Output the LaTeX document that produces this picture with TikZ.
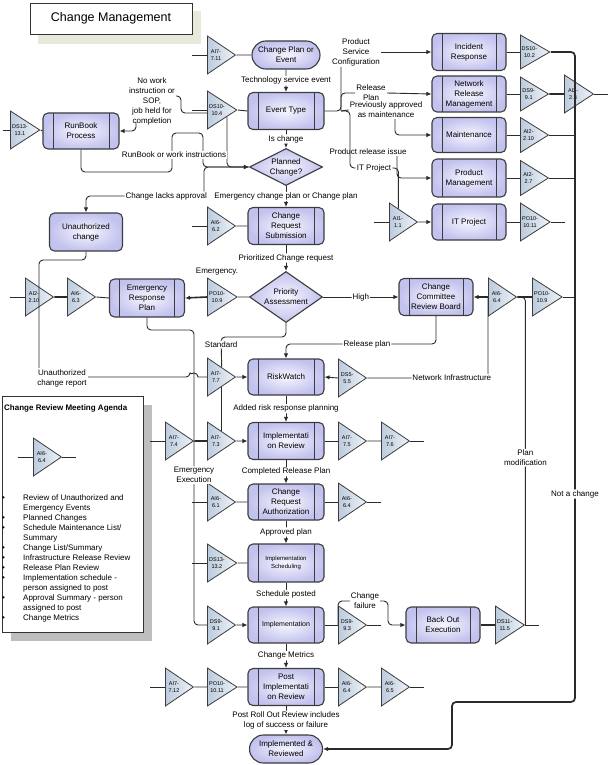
\documentclass[tikz,border=0pt]{standalone}
\usepackage{fontspec}
\setmainfont{Liberation Sans}
\usetikzlibrary{shapes.geometric, shapes.misc, arrows.meta, calc}

\definecolor{boxline}{HTML}{3C3C3C}
\definecolor{boxout}{HTML}{C2C2EE}
\definecolor{boxin}{HTML}{F6F6FF}
\definecolor{trione}{HTML}{BCCBDD}
\definecolor{tritwo}{HTML}{EEF3F8}
\definecolor{wirecol}{HTML}{2A2A2A}
\definecolor{titleshade}{HTML}{E7EADA}
\definecolor{agendashade}{HTML}{BEBEBE}

\newcommand{\lblfont}{\fontsize{8}{10}\selectfont}
\newcommand{\trifont}{\fontsize{5.5}{7.5}\selectfont}

\tikzset{
  boxbase/.style={rectangle, rounded corners=5pt, draw=boxline, line width=1.1pt,
    inner color=boxin, outer color=boxout, inner sep=1pt, align=center,
    font=\lblfont, minimum width=76pt, minimum height=37pt},
  proc/.style={boxbase, path picture={
    \draw[boxline, line width=1pt]
      ([xshift=10pt]path picture bounding box.north west) -- ([xshift=10pt]path picture bounding box.south west)
      ([xshift=-10pt]path picture bounding box.north east) -- ([xshift=-10pt]path picture bounding box.south east);}},
  term/.style={rounded rectangle, draw=boxline, line width=1.1pt, inner color=boxin,
    outer color=boxout, align=center, font=\lblfont, minimum width=70pt,
    minimum height=28pt, inner sep=1pt},
  decide/.style={diamond, draw=boxline, line width=1.1pt, inner color=boxin,
    outer color=boxout, align=center, font=\lblfont, inner sep=0pt, minimum width=73pt},
  tri/.style={isosceles triangle, isosceles triangle stretches, shape border rotate=0,
    draw=boxline, line width=0.8pt, left color=trione, right color=tritwo,
    minimum width=38pt, minimum height=28pt, inner sep=0pt, anchor=west,
    align=center, font=\trifont},
  lbl/.style={fill=white, inner sep=1pt, align=center, font=\lblfont},
  wire/.style={draw=wirecol, line width=0.9pt, rounded corners=4pt},
  arr/.style={wire, -{Latex[length=5pt, width=4.5pt]}},
  fat/.style={wire, line width=1.7pt},
}

\begin{document}
\begin{tikzpicture}[x=1pt, y=-1pt]
    \useasboundingbox (0,0) rectangle (608,765);

    % Title
    \fill[titleshade] (38,11) rectangle (201,44);
    \node[draw=black!80, line width=0.9pt, fill=white, minimum width=162pt, minimum height=31pt,
      font=\fontsize{12.5}{14}\selectfont] (title) at (111,18.5) {Change Management};

    % Agenda box
    \fill[agendashade] (11,405) rectangle (152,641);
    \node[draw=black!80, line width=0.9pt, fill=white, minimum width=141pt, minimum height=236pt,
      anchor=north west] (agenda) at (2,396) {};
    \node[font=\bfseries\lblfont, anchor=west, inner sep=1pt] (agtitle) at (3,408) {Change Review Meeting Agenda};
    \node[tri] (t64box) at (33,457) {AI6-\\6.4};
    \draw[wire] (t64box.west) -- ++(-15,0);
    \draw[wire] (t64box.east) -- ++(14,0);
    \node[anchor=north west, inner sep=0pt, font=\lblfont] (aglist) at (2,493.5) {%
      \begin{tabular}{@{}p{21pt}@{}l@{}}
        \textbullet & Review of Unauthorized and\\
                    & Emergency Events\\
        \textbullet & Planned Changes\\
        \textbullet & Schedule Maintenance List/\\
                    & Summary\\
        \textbullet & Change List/Summary\\
        \textbullet & Infrastructure Release Review\\
        \textbullet & Release Plan Review\\
        \textbullet & Implementation schedule -\\
                    & person assigned to post\\
        \textbullet & Approval Summary - person\\
                    & assigned to post\\
        \textbullet & Change Metrics
      \end{tabular}};

    % Main column
    \node[term] (cpe) at (286,55) {Change Plan or\\Event};
    \node[proc] (evtype) at (286,111) {Event Type};
    \node[decide, aspect=2, minimum height=37pt] (planned) at (286,167) {Planned\\Change?};
    \node[proc] (crsub) at (286,226) {Change\\Request\\Submission};
    \node[decide, aspect=1.4, minimum height=51pt] (prio) at (286,297) {Priority\\Assessment};
    \node[proc, minimum height=36pt] (riskw) at (286,377) {RiskWatch};
    \node[proc] (implrev) at (286,441) {Implementati\\on Review};
    \node[proc, minimum height=36pt] (crauth) at (286,502) {Change\\Request\\Authorization};
    \node[proc, minimum height=38pt, font=\fontsize{6}{8}\selectfont] (implsched) at (286,563) {Implementation\\Scheduling};
    \node[proc, minimum height=36pt, font=\fontsize{7}{9}\selectfont] (implem) at (286,625) {Implementation};
    \node[proc] (postrev) at (286,687) {Post\\Implementati\\on Review};
    \node[term, minimum width=75pt] (done) at (286,749) {Implemented \&\\Reviewed};

    % Right column
    \node[proc, minimum width=74pt] (incid) at (469,52) {Incident\\Response};
    \node[proc, minimum width=74pt, minimum height=36pt] (netrel) at (469,94) {Network\\Release\\Management};
    \node[proc, minimum width=74pt, minimum height=35pt] (maint) at (469,135) {Maintenance};
    \node[proc, minimum width=74pt, minimum height=38pt] (prodm) at (469,178) {Product\\Management};
    \node[proc, minimum width=74pt, minimum height=36pt] (itproj) at (469,222) {IT Project};
    \node[proc, minimum width=74pt] (ccrb) at (436,297) {Change\\Committee\\Review Board};
    \node[proc, minimum width=74pt, minimum height=36pt] (backout) at (443,625) {Back Out\\Execution};

    % Left column
    \node[proc, minimum height=36pt] (runbook) at (81,131) {RunBook\\Process};
    \node[boxbase, minimum width=73pt, minimum height=38pt] (unauth) at (86,232) {Unauthorized\\change};
    \node[proc, minimum width=75pt, minimum height=38pt] (erp) at (147,298) {Emergency\\Response\\Plan};

    % Control objective triangles
    \node[tri] (t711) at (207,55) {AI7-\\7.11};
    \node[tri] (t104) at (207,110) {DS10-\\10.4};
    \node[tri] (t62) at (207,226) {AI6-\\6.2};
    \node[tri] (t109L) at (207,297) {PO10-\\10.9};
    \node[tri] (t77) at (207,377) {AI7-\\7.7};
    \node[tri] (t73) at (207,441) {AI7-\\7.3};
    \node[tri] (t74) at (165,441) {AI7-\\7.4};
    \node[tri] (t61) at (207,502) {AI6-\\6.1};
    \node[tri] (t132) at (207,563) {DS13-\\13.2};
    \node[tri] (t91L) at (207,625) {DS9-\\9.1};
    \node[tri] (t1011L) at (207,687) {PO10-\\10.11};
    \node[tri] (t712) at (165,687) {AI7-\\7.12};
    \node[tri] (t131) at (10,130) {DS13-\\13.1};
    \node[tri] (t210L) at (25,297) {AI2-\\2.10};
    \node[tri] (t63) at (67,297) {AI6-\\6.3};
    \node[tri, minimum width=34pt] (t102) at (520,52) {DS10-\\10.2};
    \node[tri, minimum width=34pt] (t91R) at (520,94) {DS9-\\9.1};
    \node[tri, minimum height=29pt] (t28) at (564,94) {AI2-\\2.8};
    \node[tri, minimum width=35pt] (t210R) at (520,135) {AI2-\\2.10};
    \node[tri, minimum width=35pt] (t27) at (520,178) {AI2-\\2.7};
    \node[tri] (t1011R) at (520,222) {PO10-\\10.11};
    \node[tri] (t11) at (389,222) {AI1-\\1.1};
    \node[tri] (t64a) at (488,297) {AI6-\\6.4};
    \node[tri] (t109R) at (532,297) {PO10-\\10.9};
    \node[tri] (t55) at (338,378) {DS5-\\5.5};
    \node[tri] (t75) at (338,441) {AI7-\\7.5};
    \node[tri] (t76) at (381,441) {AI7-\\7.6};
    \node[tri] (t64b) at (338,502) {AI6-\\6.4};
    \node[tri] (t93) at (338,625) {DS9-\\9.3};
    \node[tri] (t115) at (495,625) {DS11-\\11.5};
    \node[tri] (t64c) at (338,687) {AI6-\\6.4};
    \node[tri] (t65) at (381,687) {AI6-\\6.5};

    % Open stubs
    \foreach \t in {t711,t104,t62,t74,t61,t132,t712,t210L,t11}
        \draw[wire] (\t.west) -- ++(-15,0);
    \draw[wire] (t131.west) -- ++(-7,0);
    \foreach \t in {t28,t1011R,t76,t64b,t93,t115,t65}
        \draw[wire] (\t.east) -- ++(14,0);

    % Main flow
    \draw[arr] (cpe) -- node[lbl] (lTech) {Technology service event} (evtype);
    \draw[arr] (evtype) -- node[lbl] (lIsch) {Is change} (planned);
    \draw[arr] (planned) -- node[lbl] (lEmcp) {Emergency change plan or Change plan} (crsub);
    \draw[arr] (crsub) -- node[lbl] (lPrio) {Prioritized Change request} (prio);
    \draw[arr] (riskw) -- node[lbl] (lAdd) {Added risk response planning} (implrev);
    \draw[arr] (implrev) -- node[lbl] (lComp) {Completed Release Plan} (crauth);
    \draw[arr] (crauth) -- node[lbl] (lAppr) {Approved plan} (implsched);
    \draw[arr] (implsched) -- node[lbl] (lSched) {Schedule posted} (implem);
    \draw[arr] (implem) -- node[lbl] (lMetr) {Change Metrics} (postrev);
    \draw[arr] (postrev) -- node[lbl] (lRoll) {Post Roll Out Review includes\\log of success or failure} (done);

    % Triangles on the main column
    \draw[wire] (t711.east) -- (cpe.west);
    \draw[wire] (t104.east) -- (evtype.west);
    \draw[wire] (t62.east) -- (crsub.west);
    \draw[arr] (t77.east) -- (riskw.west);
    \draw[fat] (t74.east) -- (t73.west);
    \draw[arr] (t73.east) -- (implrev.west);
    \draw[wire] (t77.right side) -- (t73.left side);
    \draw[wire] (t61.east) -- (crauth.west);
    \draw[wire] (t132.east) -- (implsched.west);
    \draw[arr] (t91L.east) -- (implem.west);
    \draw[wire] (t712.east) -- (t1011L.west);
    \draw[wire] (t1011L.east) -- (postrev.west);
    \draw[wire] (implrev.east) -- (t75.west);
    \draw[wire] (t75.east) -- (t76.west);
    \draw[wire] (crauth.east) -- (t64b.west);
    \draw[wire] (postrev.east) -- (t64c.west);
    \draw[wire] (t64c.east) -- (t65.west);
    \draw[wire] (implem.east) -- (t93.west);

    % Left side
    \draw[wire] (t131.east) -- (runbook.west);
    \draw[fat] (t210L.east) -- (t63.west);
    \draw[wire] (t63.east) -- (erp.west);

    \node[inner sep=1pt, align=center, font=\lblfont] (lNoWork) at (152,101) {No work\\instruction or\\SOP,\\job held for\\completion};
    \coordinate (nwA) at (181,96);
    \coordinate (nwB) at (136,122);
    \draw[wire] ([yshift=-3pt]t104.west) -| (nwA) -- (nwA -| lNoWork.east);
    \draw[arr] (nwB) |- (runbook.east);

    \draw[arr] ($(t104.right corner)!0.65!(t104.apex)$) |- (planned.west);

    \coordinate (rbA) at (172,172);
    \coordinate (rbB) at (172,133);
    \coordinate (rbC) at (203,133);
    \draw[arr] (runbook.south) |- (rbA) -- (rbB) -- (rbC) |- (planned.west);
    \node[lbl] (lRunW) at (174,155) {RunBook or work instructions};

    \coordinate (lackA) at (204,196);
    \coordinate (lackB) at (86,196);
    \draw[arr] (planned.west) -| (lackA) -- node[lbl, pos=0.32] (lLack) {Change lacks approval} (lackB) -- (unauth.north);

    \coordinate (unbend) at (39,260);
    \coordinate (hopL) at (190,377);
    \draw[wire] (unauth.south) |- (unbend) |- (hopL) [sharp corners] arc(180:360:4) -- (t77.west);
    \node[lbl] (lUnRep) at (62,378) {Unauthorized\\change report};

    % Emergency and standard routes
    \draw[wire] (prio.west) -- (t109L.east);
    \draw[arr, line width=1.6pt] (t109L.west) -- (erp.east);
    \node[inner sep=1pt, font=\lblfont] (lEmg) at (217,272) {Emergency.};
    \coordinate (emgbend) at (194,330);
    \draw[wire] (erp.south) |- (emgbend) |- node[lbl, pos=0.246] (lEmex) {Emergency\\Execution} (t91L.west);
    \coordinate (stdbend) at (221,337);
    \draw[wire] (prio.south) |- (stdbend) -- node[lbl, pos=0.25] (lStd) {Standard} (t77.left side);
    \draw[arr] (prio.east) -- node[lbl] (lHigh) {High} (ccrb.west);

    % Change committee
    \draw[arr, line width=1.6pt] (t64a.west) -- (ccrb.east);
    \draw[fat] (t64a.east) -- (t109R.west);
    \coordinate (relbend) at (436,344);
    \draw[arr] (ccrb.south) -- (relbend) -| node[lbl, pos=0.23] (lRelp) {Release plan} (riskw.north);
    \draw[wire] (t64a.west) |- node[lbl, pos=0.65] (lNet) {Network Infrastructure} (t55.east);
    \draw[arr] (t55.west) -- (riskw.east);
    \draw[wire] (t64a.east) -| node[lbl, pos=0.745] (lPlan) {Plan\\modification} (t115.east);

    % Back out
    \coordinate (cfR) at (388,601);
    \draw[arr] (t93.west) |- node[lbl, pos=0.77] (lFail) {Change\\failure} (cfR) |- (backout.west);
    \draw[fat] (backout.east) -- (t115.west);

    % Event type branches
    \coordinate (etj) at (341,111);
    \coordinate (itA) at (350,111);
    \node[inner sep=1pt, align=center, font=\lblfont] (lPSC) at (356,52) {Product\\Service\\Configuration};
    \node[inner sep=1pt, align=center, font=\lblfont] (lRel) at (371,93) {Release\\Plan};
    \node[inner sep=1pt, align=center, font=\lblfont] (lPrev) at (386,110) {Previously approved\\as maintenance};
    \node[inner sep=1pt, font=\lblfont] (lIT) at (374,168) {IT Project};
    \node[inner sep=1pt, font=\lblfont] (lPRI) at (368,152) {Product release issue};
    \draw[wire] (evtype.east) -- (etj) -- (etj |- lPSC.south);
    \draw[arr] (lPSC.east) -- (incid.west);
    \draw[wire] (etj) |- (lRel.west);
    \draw[arr] (lRel.east) -- (netrel.west);
    \draw[wire] (etj) -- (lPrev.west);
    \draw[arr] ([xshift=9pt]lPrev.south) |- (maint.west);
    \draw[wire] (etj) -- (itA) |- (lIT.west);
    \coordinate (itB) at ($(t11.left corner)!0.32!(t11.apex)$);
    \draw[wire] (lIT.east) -| (itB);
    \draw[arr] ([xshift=29pt]lPRI.south) |- (prodm.west);
    \draw[arr] (t11.east) -- (itproj.west);

    % Right column outputs
    \draw[wire] (incid.east) -- (t102.west);
    \draw[wire] (netrel.east) -- (t91R.west);
    \draw[fat] (t91R.east) -- (t28.west);
    \draw[wire] (maint.east) -- (t210R.west);
    \draw[wire] (prodm.east) -- (t27.west);
    \draw[wire] (itproj.east) -- (t1011R.west);

    % Not a change bus
    \coordinate (busbot) at (575,702);
    \coordinate (busjog) at (452,702);
    \draw[wire] (t210R.east) -- (t210R.east -| busbot);
    \draw[wire] (t27.east) -- (t27.east -| busbot);
    \draw[wire] (t109R.east) -- (t109R.east -| busbot);
    \draw[arr, line width=1.7pt] (t102.east) -| node[lbl, pos=0.84] (lNot) {Not a change} (busbot) -- (busjog) |- (done.east);
\end{tikzpicture}
\end{document}
